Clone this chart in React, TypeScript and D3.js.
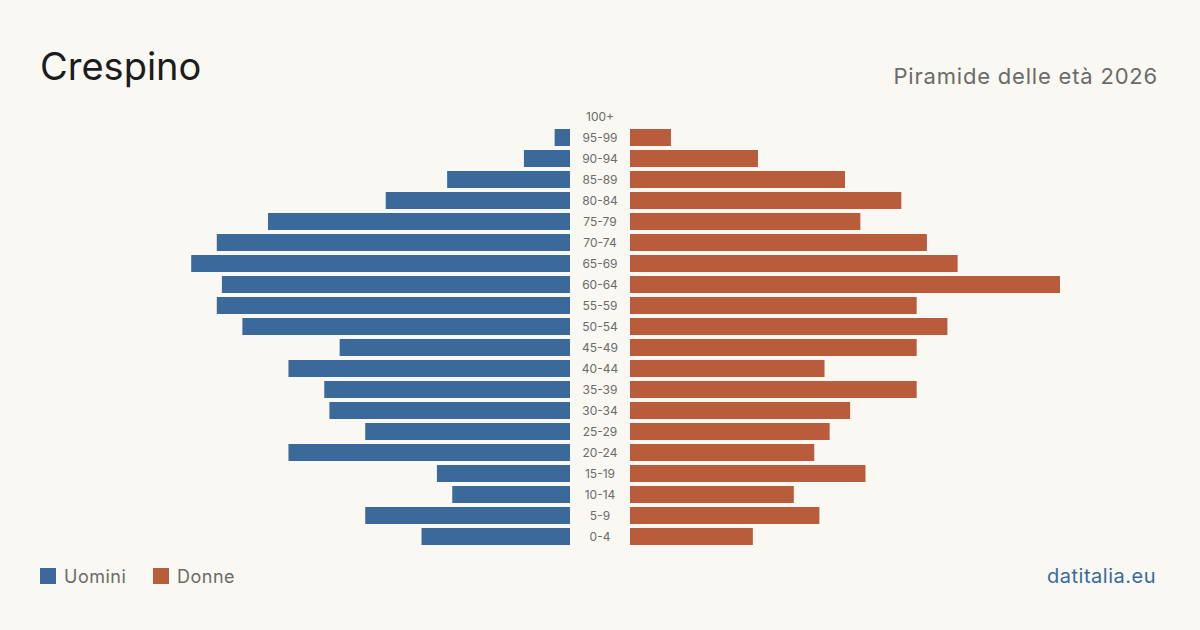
import React from 'react';
import * as d3 from 'd3';

const ageGroups = ['100+', '95-99', '90-94', '85-89', '80-84', '75-79', '70-74', '65-69', '60-64', '55-59',
  '50-54', '45-49', '40-44', '35-39', '30-34', '25-29', '20-24', '15-19', '10-14', '5-9', '0-4'];
const males = [0, 3, 9, 24, 36, 59, 69, 74, 68, 69, 64, 45, 55, 48, 47, 40, 55, 26, 23, 40, 29];
const females = [0, 8, 25, 42, 53, 45, 58, 64, 84, 56, 62, 56, 38, 56, 43, 39, 36, 46, 32, 37, 24];

const W = 1200;
const H = 630;
const BLUE = '#3b6a9a';
const ORANGE = '#b95c3c';
const FONT = 'Inter, "Noto Sans", sans-serif';

export default function App() {
  const maxV = d3.max([...males, ...females]) as number;
  const y = d3.scaleBand<string>().domain(ageGroups).range([106, 547]).paddingInner(0.19).paddingOuter(0.095);
  const xL = d3.scaleLinear().domain([0, maxV]).range([0, 430]);
  const leftEdge = 570;
  const rightEdge = 630;

  return (
    <svg width={W} height={H} style={{position: 'absolute', left: 0, top: 0, background: '#f9f8f3'}}>
      <rect width={W} height={H} fill="#f9f8f3"/>
      <text x={40} y={80} fontFamily={FONT} fontSize={38} fill="#1c1c1c">Crespino</text>
      <text x={1158} y={84} textAnchor="end" fontFamily={FONT} fontSize={22} letterSpacing={0.8}
            fill="#6b6b6b">Piramide delle età 2026</text>

      {ageGroups.map((g, i) => (
        <g key={g}>
          {males[i] > 0 && (
            <rect x={leftEdge - xL(males[i])} y={y(g)} width={xL(males[i])} height={y.bandwidth()} fill={BLUE}/>
          )}
          {females[i] > 0 && (
            <rect x={rightEdge} y={y(g)} width={xL(females[i])} height={y.bandwidth()} fill={ORANGE}/>
          )}
          <text x={600} y={(y(g) as number) + y.bandwidth() / 2} dy="0.35em" textAnchor="middle"
                fontFamily={FONT} fontSize={12} fill="#6b6b6b">{g}</text>
        </g>
      ))}

      <rect x={40} y={568} width={16} height={16} fill={BLUE}/>
      <text x={64} y={583} fontFamily={FONT} fontSize={18} letterSpacing={0.5} fill="#6b6b6b">Uomini</text>
      <rect x={153} y={568} width={16} height={16} fill={ORANGE}/>
      <text x={177} y={583} fontFamily={FONT} fontSize={18} letterSpacing={0.5} fill="#6b6b6b">Donne</text>

      <text x={1156} y={583} textAnchor="end" fontFamily={FONT} fontSize={20} letterSpacing={0.5}
            fill={BLUE}>datitalia.eu</text>
    </svg>
  );
}
